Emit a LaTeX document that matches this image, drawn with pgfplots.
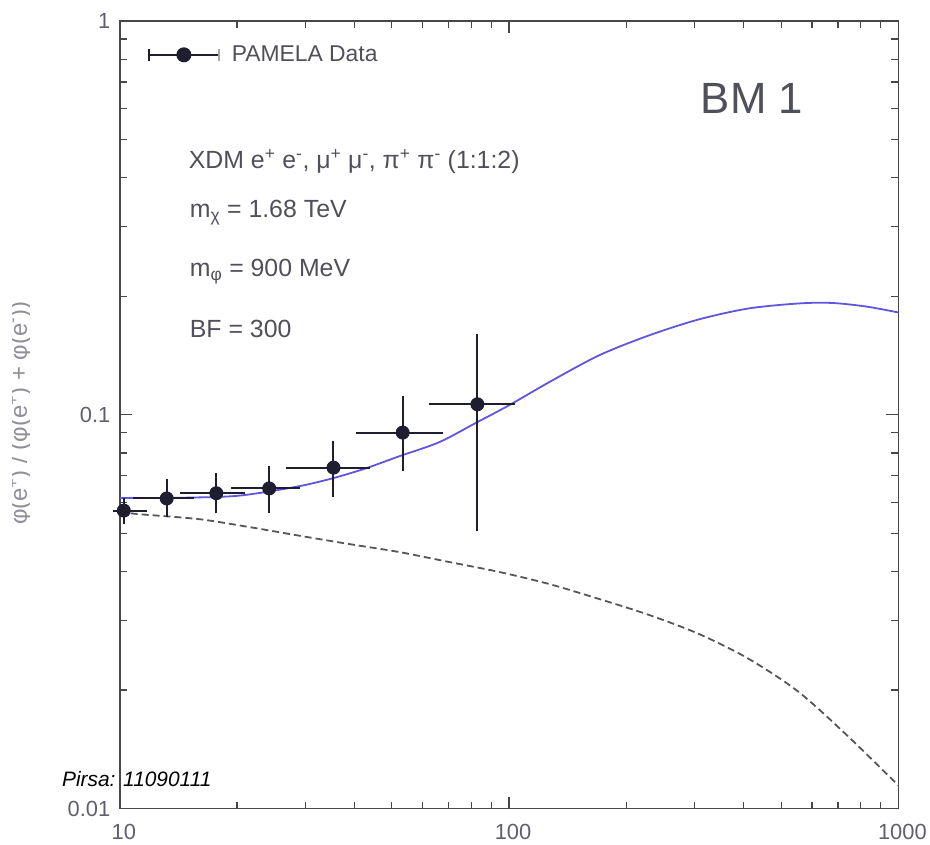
\documentclass[border=0pt]{standalone}
\usepackage{fontspec}
\setmainfont{Liberation Sans}
\usepackage{pgfplots}
\pgfplotsset{compat=1.18}
\usepackage{pgfplotstable}

\definecolor{axisgray}{RGB}{70,70,75}
\definecolor{ticklab}{RGB}{95,95,110}
\definecolor{txtgray}{RGB}{80,80,90}
\definecolor{curveblue}{RGB}{95,85,225}
\definecolor{dashgray}{RGB}{85,85,90}
\definecolor{ptcol}{RGB}{30,30,48}

\pgfplotstableread{
x     y       xm    xp    ym      yp
10.24 0.0571  0.24  1.06  0.0020  0.0020
13.2  0.0613  1.9   1.7   0.0040  0.0045
17.7  0.0632  2.8   2.4   0.0046  0.0050
24.2  0.0650  4.1   3.7   0.0064  0.0063
35.4  0.0734  7.5   6.8   0.0090  0.0087
53.3  0.0901  11.1  11.6  0.0152  0.0173
82.9  0.1063  18.0  16.6  0.0535  0.0475
}\pamela

\pgfplotstableread{
x      y
10     0.06142
15.12  0.06161
20.31  0.06233
28.10  0.06550
34.56  0.06863
42.23  0.07275
52.24  0.07846
66.14  0.08518
82.78  0.09572
100    0.1057
126.6  0.1209
170.2  0.1415
228.6  0.1590
307    0.1746
412.5  0.1862
554    0.1917
673    0.1923
823    0.1884
1000   0.1819
}\model

\pgfplotstableread{
x      y
10     0.0566
11.25  0.0559
16.0   0.0543
21.5   0.05186
28.9   0.0493
38.9   0.04694
52.2   0.04481
70.2   0.04227
94.3   0.03989
126.6  0.03718
170.2  0.03406
228.6  0.03103
307.0  0.02777
412.5  0.02400
554    0.01979
744.5  0.01522
1000   0.01144
}\background

\begin{document}
\begin{tikzpicture}
\begin{axis}[
  at={(0,0)}, anchor=south west,
  scale only axis, width=780bp, height=789bp,
  xmode=log, ymode=log,
  xmin=10, xmax=1000, ymin=0.01, ymax=1,
  xtick={10,100,1000}, xticklabels={10,100,1000},
  ytick={0.01,0.1,1}, yticklabels={0.01,0.1,1},
  minor xtick={20,30,40,50,60,70,80,90,200,300,400,500,600,700,800,900},
  minor ytick={0.02,0.03,0.04,0.05,0.06,0.07,0.08,0.09,0.2,0.3,0.4,0.5,0.6,0.7,0.8,0.9},
  tick align=inside,
  major tick length=12bp, minor tick length=7bp,
  axis line style={axisgray, line width=1.5bp},
  every tick/.style={axisgray, line width=1.2bp},
  tick label style={font=\fontsize{22}{26}\selectfont, text=ticklab},
  xticklabel style={yshift=-12bp, xshift=4bp},
  yticklabel style={xshift=-6bp},
  clip=false,
  every error bar/.append style={line width=2bp},
  legend style={draw=none, fill=none, at={(0.0359,0.957)}, anchor=west,
    inner sep=0pt, column sep=12bp,
    nodes={inner sep=0pt, font=\fontsize{23}{27}\selectfont, text=txtgray}},
  legend cell align=left,
]
\addplot[curveblue, line width=1.8bp, smooth, forget plot] table[x=x,y=y] {\model};
\addplot[dashgray, line width=1.8bp, dash pattern=on 7bp off 4bp, smooth, forget plot] table[x=x,y=y] {\background};
\addplot[ptcol, line width=2bp, only marks, mark=*, mark size=6.5bp, mark options={fill=ptcol, draw=ptcol, line width=1bp},
  legend image code/.code={
    \draw[ptcol, line width=2bp] (0bp,0bp) -- (70bp,0bp);
    \draw[ptcol, line width=2bp] (0bp,-6bp) -- (0bp,6bp);
    \draw[ptcol!40, line width=2bp] (70bp,-6bp) -- (70bp,6bp);
    \fill[ptcol] (35bp,0bp) circle (6.5bp);},
  error bars/.cd,
    x dir=both, x explicit, y dir=both, y explicit,
    error bar style={ptcol, line width=2bp},
    error mark=-,
    error mark options={ptcol, line width=2bp, mark size=7bp},
  ]
  table[x=x, y=y, x error minus=xm, x error plus=xp, y error minus=ym, y error plus=yp] {\pamela};
\addlegendentry{PAMELA Data}
\end{axis}

% annotations
\node[anchor=west, inner sep=0pt, text=txtgray, font=\fontsize{44}{50}\selectfont] at (582bp,711bp) {BM 1};
\node[anchor=west, inner sep=0pt, text=txtgray, font=\fontsize{25}{30}\selectfont] at (69bp,648bp)
  {XDM e\textsuperscript{+} e\textsuperscript{-}, μ\textsuperscript{+} μ\textsuperscript{-}, π\textsuperscript{+} π\textsuperscript{-} (1:1:2)};
\node[anchor=west, inner sep=0pt, text=txtgray, font=\fontsize{25}{30}\selectfont] at (70bp,597bp)
  {m\textsubscript{χ} = 1.68 TeV};
\node[anchor=west, inner sep=0pt, text=txtgray, font=\fontsize{25}{30}\selectfont] at (70bp,538bp)
  {m\textsubscript{φ} = 900 MeV};
\node[anchor=west, inner sep=0pt, text=txtgray, font=\fontsize{25}{30}\selectfont] at (70bp,480bp)
  {BF = 300};
\node[anchor=west, inner sep=0pt, text=black, font=\fontsize{21}{25}\selectfont\itshape] at (-58bp,30bp)
  {Pirsa: 11090111};
\begin{scope}
  \clip (-107bp,250bp) rectangle (-90bp,560bp);
  \node[rotate=90, anchor=base, inner sep=0pt, text=ticklab!70, font=\fontsize{24}{28}\selectfont] at (-93bp,396bp)
    {φ(e\textsuperscript{+}) / (φ(e\textsuperscript{+}) + φ(e\textsuperscript{-}))};
\end{scope}

\path[use as bounding box] (-120bp,-36bp) rectangle (810bp,810bp);
\end{tikzpicture}
\end{document}
